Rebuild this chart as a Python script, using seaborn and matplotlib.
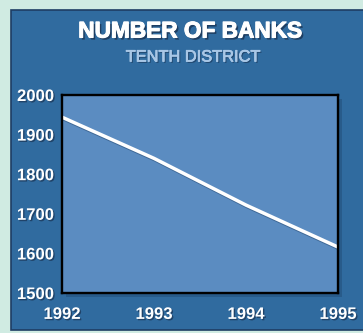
import matplotlib
matplotlib.use("Agg")
import matplotlib.pyplot as plt
import matplotlib.patheffects as pe
from matplotlib.patches import Rectangle
import seaborn as sns
import pandas as pd

years = [1992, 1993, 1994, 1995]
banks = [1944, 1840, 1722, 1616]
y_ticks = [1500, 1600, 1700, 1800, 1900, 2000]
title = "NUMBER OF BANKS"
subtitle = "TENTH DISTRICT"

sns.set_style("white")
plt.rcParams['font.family'] = ['Liberation Sans', 'DejaVu Sans']

W, H = 363, 333
fig = plt.figure(figsize=(W / 100, H / 100), dpi=100)
fig.patch.set_facecolor("#d0ebe2")

# panel
fig.patches.append(Rectangle((11 / W, 3 / H), 1.2, (320) / H, transform=fig.transFigure,
                             facecolor="#306b9f", edgecolor="#1e3d63", linewidth=1.2, zorder=0))

l, r, t, b = 62 / W, 338 / W, 95 / H, 293 / H
ax = fig.add_axes([l, 1 - b, r - l, b - t])
ax.set_zorder(2)
# shadow of plot area
fig.patches.append(Rectangle((l + 4 / W, 1 - b - 4 / H), r - l, b - t, transform=fig.transFigure,
                             facecolor="#285b8a", edgecolor="none", zorder=0.5))

df = pd.DataFrame({"year": years, "banks": banks})
sns.lineplot(data=df, x="year", y="banks", ax=ax, color="white", linewidth=2.5,
             path_effects=[pe.SimpleLineShadow(offset=(1, -1.2), shadow_color="#2a4f78", alpha=0.6),
                           pe.Normal()])
ax.set_facecolor("#5b8cc1")
ax.set_xlim(1992, 1995)
ax.set_ylim(1500, 2000)
ax.set_xticks(years)
ax.set_xticklabels([str(y) for y in years])
ax.set_yticks(y_ticks)
ax.set_yticklabels([str(v) for v in y_ticks])
ax.set_xlabel("")
ax.set_ylabel("")
for s in ax.spines.values():
    s.set_color("black")
    s.set_linewidth(1.7)
ax.tick_params(axis="both", direction="in", length=4, width=1.7, color="black",
               labelcolor="white", labelsize=12)
ax.tick_params(axis="x", pad=10)
ax.tick_params(axis="y", pad=6)
shadow = [pe.withSimplePatchShadow(offset=(1, -1), shadow_rgbFace="#1c3a5c", alpha=0.8)]
for lab in ax.get_xticklabels() + ax.get_yticklabels():
    lab.set_fontweight("bold")
    lab.set_path_effects(shadow)

fig.text(190 / W, 1 - 31 / H, title, ha="center", va="center", color="white",
         fontsize=16.3, fontweight="bold",
         path_effects=[pe.withSimplePatchShadow(offset=(1.5, -1.5), shadow_rgbFace="#1c3a5c", alpha=0.9),
                       pe.Stroke(linewidth=0.8, foreground="white"), pe.Normal()])
fig.text(193 / W, 1 - 57 / H, subtitle, ha="center", va="center", color="#a9c7e6",
         fontsize=11.8, fontweight="normal",
         path_effects=[pe.withSimplePatchShadow(offset=(1, -1), shadow_rgbFace="#1c3a5c", alpha=0.7),
                       pe.Stroke(linewidth=0.5, foreground="#a9c7e6"), pe.Normal()])

fig.savefig("out.png", dpi=100, facecolor=fig.get_facecolor())
